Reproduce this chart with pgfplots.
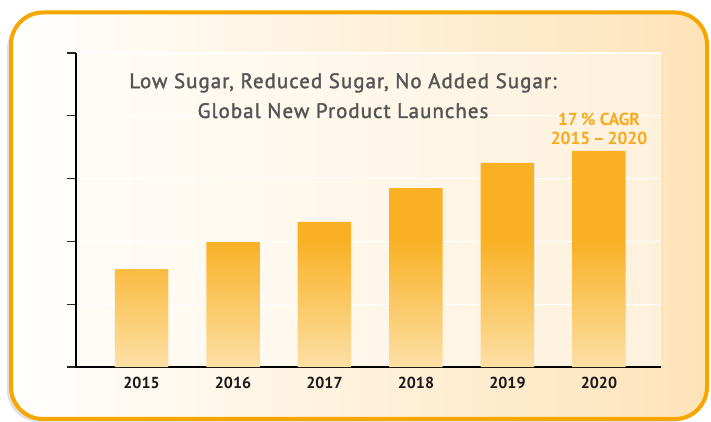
\documentclass[border=0pt]{standalone}
\usepackage{fontspec}
\setmainfont{PT Sans}
\newfontfamily\titlefont{PT Sans}[BoldFont={PT Sans}, BoldFeatures={FakeBold=1.6}, LetterSpace=5]
\usepackage{pgfplots}
\pgfplotsset{compat=1.18}
\definecolor{barorange}{HTML}{F9B022}
\definecolor{barpale}{HTML}{FDE0A6}
\definecolor{framecol}{HTML}{F7A600}
\definecolor{peach}{HTML}{FEE3B8}
\definecolor{plotleft}{HTML}{FFFCF7}
\definecolor{plotright}{HTML}{FEF1DC}
\definecolor{titlegray}{HTML}{555555}
\definecolor{cagr}{HTML}{F8AA1E}
\pgfdeclareverticalshading{barshade}{100bp}{color(0bp)=(barpale); color(25bp)=(barpale); color(55bp)=(barorange); color(100bp)=(barorange)}
\begin{document}
\begin{tikzpicture}[x=1bp,y=1bp]
\path[use as bounding box] (0bp,0bp) rectangle (711bp,422bp);
% shadow
\fill[black!12, rounded corners=32bp] (7bp,0bp) rectangle (704bp,405bp);
% card
\draw[line width=4bp, framecol, rounded corners=32bp, left color=white, right color=peach] (11bp,3bp) rectangle (707bp,409.5bp);
\begin{axis}[
  at={(76bp,55bp)}, anchor=south west,
  scale only axis, width=585bp, height=314bp,
  xmin=-0.716, xmax=5.678, ymin=0, ymax=5,
  axis background/.style={left color=plotleft, right color=plotright},
  axis x line=bottom, axis y line=left,
  axis line style={-, black, line width=1.6bp},
  xtick={0,1,2,3,4,5},
  xticklabels={2015,2016,2017,2018,2019,2020},
  ytick={0,1,2,3,4,5}, yticklabels={},
  x tick style={draw=none},
  y tick style={black!85, line width=1.2bp},
  tick align=outside, major tick length=9bp,
  ymajorgrids, grid style={white, line width=1.2bp},
  xticklabel style={font=\fontsize{16}{19}\selectfont\bfseries, text=black!90, yshift=2bp},
  ybar, bar width=53.5bp,
  clip=false,
]
\addplot[draw=none, shading=barshade] coordinates {(0,1.56) (1,1.99) (2,2.31) (3,2.85) (4,3.25) (5,3.44)};
\end{axis}
\node[align=center, text=titlegray, font=\titlefont\bfseries\fontsize{21}{30}\selectfont, anchor=base] at (343bp,304bp) {Low Sugar, Reduced Sugar, No Added Sugar:\\Global New Product Launches};
\node[align=center, text=cagr, font=\fontsize{17.5}{20}\selectfont\bfseries, anchor=base] at (599bp,277bp) {17\,\% CAGR\\2015\,–\,2020};
\end{tikzpicture}
\end{document}
